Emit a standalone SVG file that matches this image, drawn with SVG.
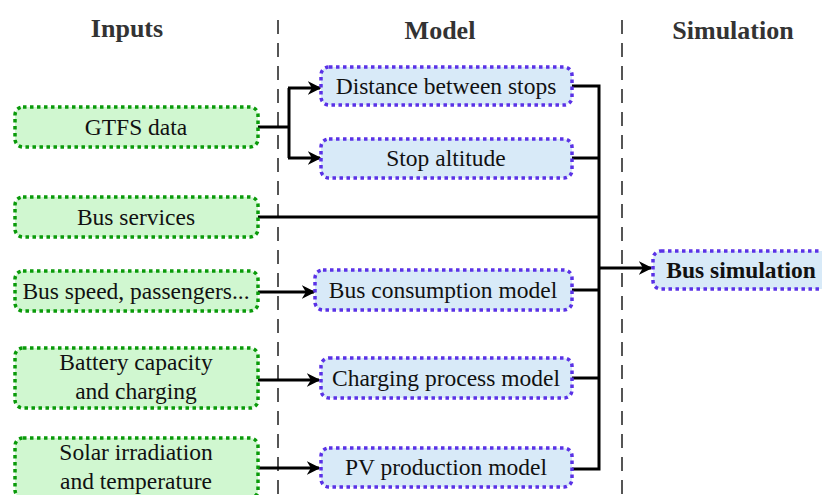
<svg xmlns="http://www.w3.org/2000/svg" width="822" height="495" viewBox="0 0 822 495">
<style>
text{font-family:"Liberation Serif","DejaVu Serif",serif;font-size:23.5px;fill:#111;text-anchor:middle;dominant-baseline:central}
.hdr{font-weight:bold;fill:#333;font-size:26px}
.in{fill:#d0f7d0;stroke:#0a9a0a;stroke-width:3.5;stroke-dasharray:3.5 3.5}
.md{fill:#d8eaf8;stroke:#5a32e6;stroke-width:3.5;stroke-dasharray:3.5 3.5}
.sep{stroke:#555;stroke-width:2;stroke-dasharray:14 9;fill:none}
.c{stroke:#000;stroke-width:3;fill:none}
.a{marker-end:url(#ah)}
</style>
<defs>
<marker id="ah" viewBox="0 0 10 10" refX="9" refY="5" markerWidth="4.5" markerHeight="4.5" orient="auto" markerUnits="strokeWidth">
<path d="M0,0 L10,5 L0,10 L3,5 Z" fill="#000"/>
</marker>
</defs>
<rect width="822" height="495" fill="#fff"/>
<g id="headers">
<text class="hdr" x="127" y="28">Inputs</text>
<text class="hdr" x="440" y="30">Model</text>
<text class="hdr" x="733" y="30">Simulation</text>
</g>
<g id="separators">
<line class="sep" x1="278" y1="20" x2="278" y2="495"/>
<line class="sep" x1="622" y1="20" x2="622" y2="495"/>
</g>
<g id="connectors">
<path class="c" d="M258,127 H289"/>
<path class="c" d="M289,88 V158"/>
<path class="c a" d="M288,88 H320"/>
<path class="c a" d="M288,158 H320"/>
<path class="c" d="M258,217 H599"/>
<path class="c a" d="M258,292 H314"/>
<path class="c a" d="M258,380 H319"/>
<path class="c a" d="M258,468 H319"/>
<path class="c" d="M572,86 H599 V469 H572"/>
<path class="c" d="M572,158 H599"/>
<path class="c" d="M572,290 H599"/>
<path class="c" d="M572,378 H599"/>
<path class="c a" d="M599,268 H651"/>
</g>
<g id="gtfs">
<rect class="in" x="15" y="107" width="243" height="40" rx="8"/>
<text x="136" y="127">GTFS data</text>
</g>
<g id="bus-services">
<rect class="in" x="15" y="197" width="243" height="40" rx="8"/>
<text x="136" y="217">Bus services</text>
</g>
<g id="bus-speed">
<rect class="in" x="15" y="271" width="243" height="40" rx="8"/>
<text x="136" y="291">Bus speed, passengers...</text>
</g>
<g id="battery">
<rect class="in" x="15" y="348" width="243" height="60" rx="8"/>
<text x="136" y="362">Battery capacity</text>
<text x="136" y="391">and charging</text>
</g>
<g id="solar">
<rect class="in" x="15" y="438" width="243" height="60" rx="8"/>
<text x="136" y="452">Solar irradiation</text>
<text x="136" y="481">and temperature</text>
</g>
<g id="distance">
<rect class="md" x="321" y="67" width="251" height="38" rx="8"/>
<text x="446" y="86">Distance between stops</text>
</g>
<g id="altitude">
<rect class="md" x="321" y="139" width="251" height="39" rx="8"/>
<text x="446" y="158">Stop altitude</text>
</g>
<g id="consumption">
<rect class="md" x="315" y="270" width="257" height="40" rx="8"/>
<text x="443" y="290">Bus consumption model</text>
</g>
<g id="charging">
<rect class="md" x="321" y="358" width="251" height="40" rx="8"/>
<text x="446" y="378">Charging process model</text>
</g>
<g id="pv">
<rect class="md" x="321" y="448" width="251" height="39" rx="8"/>
<text x="446" y="467">PV production model</text>
</g>
<g id="bus-simulation">
<rect class="md" x="653" y="251" width="180" height="38" rx="8"/>
<text x="741" y="270" style="font-weight:bold">Bus simulation</text>
</g>
</svg>
